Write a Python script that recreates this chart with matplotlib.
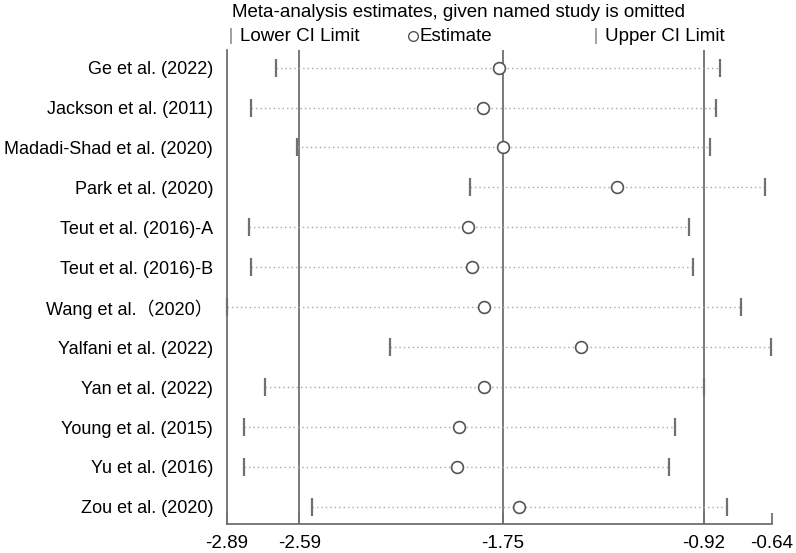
import matplotlib
matplotlib.use("Agg")
import matplotlib.pyplot as plt
from matplotlib.lines import Line2D

plt.rcParams['font.family'] = ['Liberation Sans', 'Noto Sans CJK SC', 'DejaVu Sans']

studies = ["Ge et al. (2022)", "Jackson et al. (2011)", "Madadi-Shad et al. (2020)",
           "Park et al. (2020)", "Teut et al. (2016)-A", "Teut et al. (2016)-B",
           "Wang et al.（2020）", "Yalfani et al. (2022)", "Yan et al. (2022)",
           "Young et al. (2015)", "Yu et al. (2016)", "Zou et al. (2020)"]
estimate = [-1.768, -1.831, -1.748, -1.280, -1.892, -1.876,
            -1.830, -1.426, -1.827, -1.930, -1.941, -1.683]
lower = [-2.686, -2.790, -2.600, -1.887, -2.800, -2.790,
         -2.890, -2.214, -2.730, -2.817, -2.817, -2.538]
upper = [-0.852, -0.872, -0.896, -0.670, -0.981, -0.964,
         -0.769, -0.642, -0.920, -1.040, -1.063, -0.826]
ref_lines = [-2.59, -1.75, -0.92]
xticks = [-2.89, -2.59, -1.75, -0.92, -0.64]
xticklabels = ["-2.89", "-2.59", "-1.75", "-0.92", "-0.64"]

W, H = 796, 553
fig = plt.figure(figsize=(W / 100, H / 100), dpi=100)
ax = fig.add_axes([226.7 / W, 1 - 523.7 / H, (771.8 - 226.7) / W, (523.7 - 50) / H])

ypos = list(range(len(studies)))
for y, lo, hi in zip(ypos, lower, upper):
    ax.plot([lo, hi], [y, y], linestyle=(0, (1, 2.2)), color='#a8a8a8', lw=1.0, zorder=2)
ax.plot(lower, ypos, linestyle='none', marker='|', markersize=13, mew=1.6, color='#707070', zorder=3, clip_on=False)
ax.plot(upper, ypos, linestyle='none', marker='|', markersize=13, mew=1.6, color='#707070', zorder=3, clip_on=False)
ax.plot(estimate, ypos, linestyle='none', marker='o', markersize=8.5, mew=1.2,
        markerfacecolor='white', markeredgecolor='#555555', zorder=4)
for v in ref_lines:
    ax.axvline(v, color='#707070', lw=1.3, zorder=1)

ax.set_xlim(-2.89, -0.64)
ax.set_ylim(11.42, -0.44)
ax.set_yticks(ypos)
ax.set_yticklabels(studies, fontsize=13)
ax.tick_params(axis='y', length=0, pad=9.8)
ax.set_xticks(xticks)
ax.set_xticklabels(xticklabels, fontsize=13.5)
ax.tick_params(axis='x', direction='in', length=8, width=1.3, color='#707070', pad=8)
for s in ['top', 'right']:
    ax.spines[s].set_visible(False)
for s in ['left', 'bottom']:
    ax.spines[s].set_color('#707070')
    ax.spines[s].set_linewidth(1.3)

fig.text(232 / W, 1 - 17 / H, "Meta-analysis estimates, given named study is omitted",
         fontsize=13.5, ha='left', va='baseline')
ly = 1 - 41 / H
my = 1 - 35.5 / H
fig.add_artist(Line2D([230.6 / W], [my], marker='|', markersize=11, mew=1.2, color='#909090', linestyle='none'))
fig.text(240 / W, ly, "Lower CI Limit", fontsize=13.5, ha='left', va='baseline')
fig.add_artist(Line2D([413 / W], [my], marker='o', markersize=7, mew=1.0, markerfacecolor='white',
                      markeredgecolor='#555555', linestyle='none'))
fig.text(420 / W, ly, "Estimate", fontsize=13.5, ha='left', va='baseline')
fig.add_artist(Line2D([595.5 / W], [my], marker='|', markersize=11, mew=1.2, color='#909090', linestyle='none'))
fig.text(605 / W, ly, "Upper CI Limit", fontsize=13.5, ha='left', va='baseline')

fig.savefig("out.png", dpi=100)
